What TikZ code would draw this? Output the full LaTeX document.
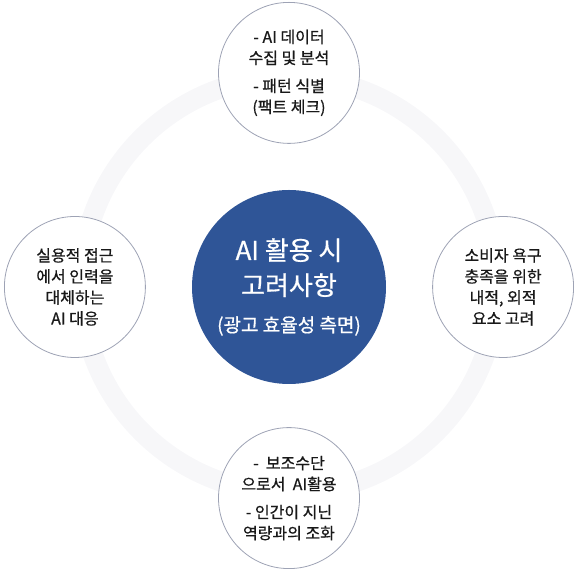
\documentclass[tikz,border=0pt]{standalone}
\usepackage{fontspec}
\setmainfont{Noto Sans CJK KR}[FakeBold=0.6]
\usetikzlibrary{positioning}
\definecolor{hubblue}{HTML}{2F5597}
\definecolor{rimgray}{HTML}{9EA3B5}
\definecolor{ringgray}{HTML}{F7F7F9}

\begin{document}
\begin{tikzpicture}[x=1pt, y=1pt, node distance=46pt,
    satellite/.style={draw=rimgray, line width=0.8pt, circle, fill=white, minimum size=141pt, inner sep=0pt, align=center, text=black!90, font=\fontsize{16}{21}\selectfont}]
    \useasboundingbox (0,0) rectangle (579,569);
    % Background ring
    \coordinate (hub) at (289,284);
    \draw[ringgray, line width=20pt] (hub) circle (208);
    % Centre
    \node[circle, fill=hubblue, minimum size=194pt, inner sep=0pt, align=center, text=white, font=\fontsize{26}{35}\selectfont] (core) at (289,282) {AI 활용 시\\고려사항\\[2pt]{\fontsize{19}{22}\selectfont (광고 효율성 측면)}};
    % Satellites
    \node[satellite, above=46pt of core] (data) {- AI 데이터\\수집 및 분석\\[7pt]- 패턴 식별\\(팩트 체크)};
    \node[satellite, left=46pt of core] (labor) {실용적 접근\\에서 인력을\\대체하는\\AI 대응};
    \node[satellite, right=46pt of core] (needs) {소비자 욕구\\충족을 위한\\내적, 외적\\요소 고려};
    \node[satellite, below=43pt of core] (tool) {- \ 보조수단\\으로서 \ AI활용\\[7pt]- 인간이 지닌\\역량과의 조화};
  \end{tikzpicture}
\end{document}
